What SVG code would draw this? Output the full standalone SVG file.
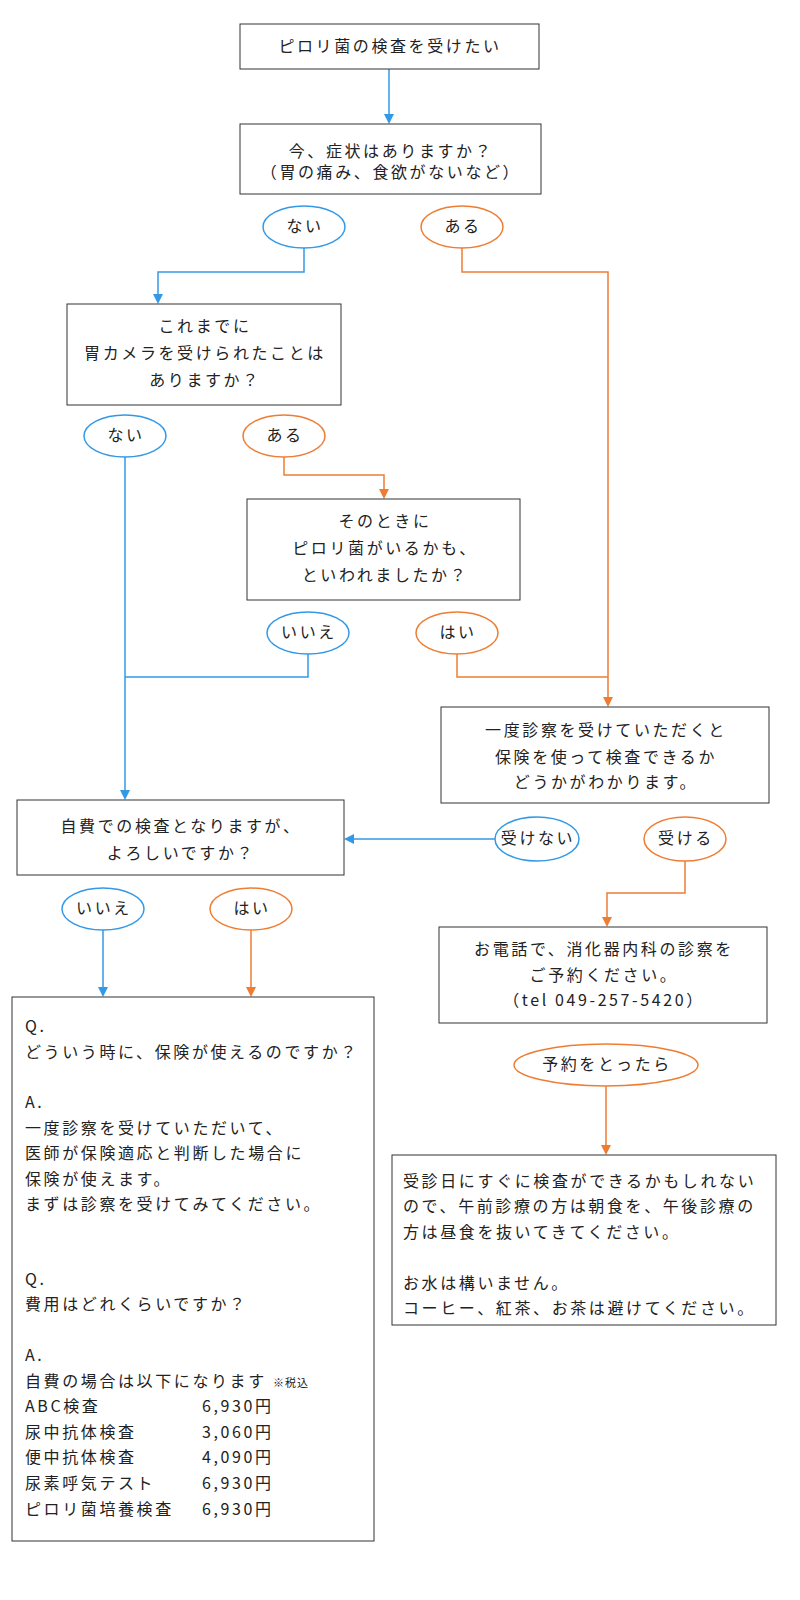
<svg xmlns="http://www.w3.org/2000/svg" width="800" height="1600" viewBox="0 0 800 1600">
<style>
text{font-family:"Noto Sans CJK JP","Noto Sans",sans-serif;font-size:16px;letter-spacing:2.6px;fill:#222}
.c{text-anchor:middle}
.box{fill:#fff;stroke:#333;stroke-width:1}
.eb{fill:#fff;stroke:#3399e6;stroke-width:1.5}
.eo{fill:#fff;stroke:#ee7d33;stroke-width:1.5}
.lb{fill:none;stroke:#3399e6;stroke-width:1.5}
.lo{fill:none;stroke:#ee7d33;stroke-width:1.5}
.s{font-size:11px;letter-spacing:1px}
</style>
<defs>
<marker id="ab" markerWidth="10" markerHeight="10" refX="8" refY="5" orient="auto" markerUnits="userSpaceOnUse"><path d="M0,0 L10,5 L0,10 z" fill="#3399e6"/></marker>
<marker id="ao" markerWidth="10" markerHeight="10" refX="8" refY="5" orient="auto" markerUnits="userSpaceOnUse"><path d="M0,0 L10,5 L0,10 z" fill="#ee7d33"/></marker>
</defs>
<g id="connectors">
<path class="lb" d="M389,69 V122" marker-end="url(#ab)"/>
<path class="lb" d="M304,248 V272 H158 V302" marker-end="url(#ab)"/>
<path class="lo" d="M462,248 V272 H608 V705" marker-end="url(#ao)"/>
<path class="lb" d="M125,457 V798" marker-end="url(#ab)"/>
<path class="lo" d="M284,457 V475 H384 V497" marker-end="url(#ao)"/>
<path class="lb" d="M308,654 V677 H125"/>
<path class="lo" d="M457,654 V677 H608"/>
<path class="lb" d="M495,839 H346" marker-end="url(#ab)"/>
<path class="lo" d="M685,861 V893 H607 V925" marker-end="url(#ao)"/>
<path class="lo" d="M606,1086 V1153" marker-end="url(#ao)"/>
<path class="lb" d="M103,930 V995" marker-end="url(#ab)"/>
<path class="lo" d="M251,930 V995" marker-end="url(#ao)"/>
</g>
<g id="n1"><rect class="box" x="240" y="24" width="299" height="45"/><text class="c" x="390" y="52">ピロリ菌の検査を受けたい</text></g>
<g id="n2"><rect class="box" x="240" y="124" width="301" height="70"/><text class="c" x="391" y="157">今、症状はありますか？</text><text class="c" x="391" y="178">（胃の痛み、食欲がないなど）</text></g>
<g id="e1"><ellipse class="eb" cx="304" cy="227" rx="41" ry="21"/><text class="c" x="305" y="232">ない</text></g>
<g id="e2"><ellipse class="eo" cx="462" cy="227" rx="41" ry="21"/><text class="c" x="463" y="232">ある</text></g>
<g id="n3"><rect class="box" x="67" y="304" width="274" height="101"/><text class="c" x="205" y="332">これまでに</text><text class="c" x="205" y="359">胃カメラを受けられたことは</text><text class="c" x="205" y="386">ありますか？</text></g>
<g id="e3"><ellipse class="eb" cx="125" cy="436" rx="41" ry="21"/><text class="c" x="126" y="441">ない</text></g>
<g id="e4"><ellipse class="eo" cx="284" cy="436" rx="41" ry="21"/><text class="c" x="285" y="441">ある</text></g>
<g id="n4"><rect class="box" x="247" y="499" width="273" height="101"/><text class="c" x="385" y="527">そのときに</text><text class="c" x="385" y="554">ピロリ菌がいるかも、</text><text class="c" x="385" y="581">といわれましたか？</text></g>
<g id="e5"><ellipse class="eb" cx="308" cy="633" rx="41" ry="21"/><text class="c" x="309" y="638">いいえ</text></g>
<g id="e6"><ellipse class="eo" cx="457" cy="633" rx="41" ry="21"/><text class="c" x="458" y="638">はい</text></g>
<g id="n5"><rect class="box" x="441" y="707" width="328" height="96"/><text class="c" x="606" y="736">一度診察を受けていただくと</text><text class="c" x="606" y="763">保険を使って検査できるか</text><text class="c" x="606" y="788">どうかがわかります。</text></g>
<g id="n6"><rect class="box" x="17" y="800" width="327" height="75"/><text class="c" x="181" y="832">自費での検査となりますが、</text><text class="c" x="181" y="859">よろしいですか？</text></g>
<g id="e7"><ellipse class="eb" cx="537" cy="839" rx="42" ry="22"/><text class="c" x="538" y="844">受けない</text></g>
<g id="e8"><ellipse class="eo" cx="685" cy="839" rx="41" ry="22"/><text class="c" x="686" y="844">受ける</text></g>
<g id="n7"><rect class="box" x="439" y="927" width="328" height="96"/><text class="c" x="604" y="955">お電話で、消化器内科の診察を</text><text class="c" x="604" y="981">ご予約ください。</text><text class="c" x="604" y="1006">（tel 049-257-5420）</text></g>
<g id="e9"><ellipse class="eo" cx="606" cy="1065" rx="92" ry="21"/><text class="c" x="607" y="1070">予約をとったら</text></g>
<g id="n8"><rect class="box" x="392" y="1155" width="384" height="170"/>
<text x="403" y="1187">受診日にすぐに検査ができるかもしれない</text>
<text x="403" y="1212">ので、午前診療の方は朝食を、午後診療の</text>
<text x="403" y="1238">方は昼食を抜いてきてください。</text>
<text x="403" y="1289">お水は構いません。</text>
<text x="403" y="1314">コーヒー、紅茶、お茶は避けてください。</text></g>
<g id="e10"><ellipse class="eb" cx="103" cy="909" rx="41" ry="21"/><text class="c" x="104" y="914">いいえ</text></g>
<g id="e11"><ellipse class="eo" cx="251" cy="909" rx="41" ry="21"/><text class="c" x="252" y="914">はい</text></g>
<g id="n9"><rect class="box" x="12" y="997" width="362" height="544"/>
<text x="25" y="1032">Q.</text>
<text x="25" y="1058">どういう時に、保険が使えるのですか？</text>
<text x="25" y="1108">A.</text>
<text x="25" y="1134">一度診察を受けていただいて、</text>
<text x="25" y="1159">医師が保険適応と判断した場合に</text>
<text x="25" y="1185">保険が使えます。</text>
<text x="25" y="1210">まずは診察を受けてみてください。</text>
<text x="25" y="1285">Q.</text>
<text x="25" y="1310">費用はどれくらいですか？</text>
<text x="25" y="1361">A.</text>
<text x="25" y="1387">自費の場合は以下になります <tspan class="s">※税込</tspan></text>
<text x="25" y="1412">ABC検査</text><text x="202" y="1412">6,930円</text>
<text x="25" y="1438">尿中抗体検査</text><text x="202" y="1438">3,060円</text>
<text x="25" y="1463">便中抗体検査</text><text x="202" y="1463">4,090円</text>
<text x="25" y="1489">尿素呼気テスト</text><text x="202" y="1489">6,930円</text>
<text x="25" y="1515">ピロリ菌培養検査</text><text x="202" y="1515">6,930円</text></g>
</svg>
